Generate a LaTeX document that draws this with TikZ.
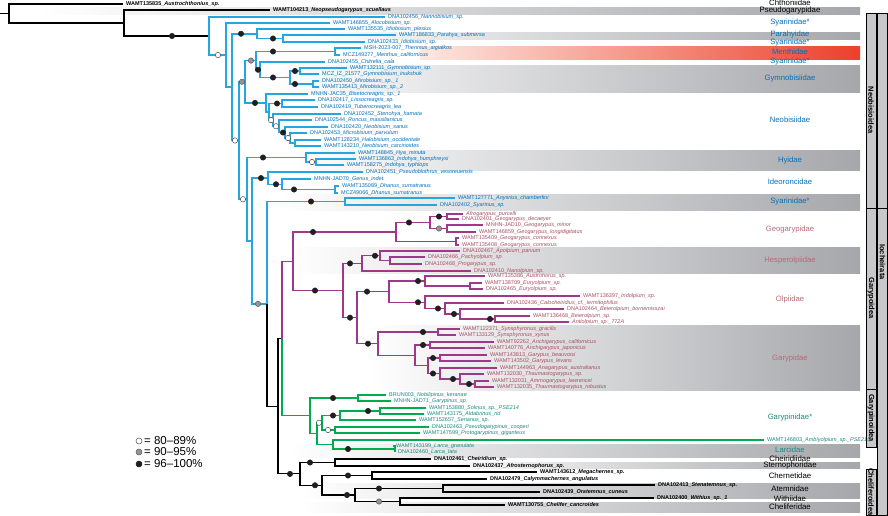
\documentclass[tikz,border=0pt]{standalone}
\usepackage{fontspec}
\setmainfont{Liberation Sans}
\usetikzlibrary{calc}
\definecolor{cb}{RGB}{38,166,224}
\definecolor{cbt}{RGB}{0,112,186}
\definecolor{cp}{RGB}{160,56,138}
\definecolor{cpt}{RGB}{168,78,98}
\definecolor{cpf}{RGB}{185,105,115}
\definecolor{cg}{RGB}{0,170,78}
\definecolor{cgt}{RGB}{22,138,128}
\definecolor{bandm}{RGB}{196,197,200}
\definecolor{bandg}{RGB}{166,167,171}
\definecolor{colg}{RGB}{200,200,202}
\definecolor{mnl}{RGB}{253,232,225}
\definecolor{mnm}{RGB}{243,158,132}
\definecolor{mnr}{RGB}{236,64,42}
\newcommand\sn[2]{#1\_\textit{#2}}
\tikzset{
 kb/.style={line width=1.1pt, black},
 bb/.style={line width=1.5pt, cb},
 pb/.style={line width=1.2pt, cp},
 gb/.style={line width=1.3pt, cg},
 lf/.style={anchor=west, inner xsep=3pt, inner ysep=0pt, text height=4pt, text depth=1.2pt, font=\fontsize{5.5}{6}\selectfont},
 lk/.style={lf, font=\fontsize{5.5}{6}\selectfont\bfseries},
 lb/.style={lf, text=cbt},
 lp/.style={lf, text=cpt},
 lg/.style={lf, text=cgt},
 fam/.style={font=\fontsize{7.7}{8}\selectfont, inner sep=0pt, text height=4.4pt, text depth=1pt},
 famk/.style={font=\fontsize{7.8}{8}\selectfont, inner sep=0pt, text=black, text height=4.2pt, text depth=0.9pt},
 dotbase/.style={circle, inner sep=0pt, minimum size=5.4pt, line width=0.5pt},
 bd/.style={dotbase, fill=black!88, draw=black!88},
 gd/.style={dotbase, fill=black!42, draw=black!65},
 wd/.style={dotbase, fill=white, draw=black!70},
 band/.style={left color=white, middle color=bandm, right color=bandg},
 colbox/.style={draw=black, line width=0.5pt, fill=colg},
 coltxt/.style={rotate=-90, font=\fontsize{7.5}{8}\selectfont\bfseries, inner sep=0pt},
 legt/.style={anchor=west, font=\fontsize{11.5}{12}\selectfont, inner sep=0pt},
}
\begin{document}
\begin{tikzpicture}[x=1pt,y=-1pt]
\useasboundingbox (0,0) rectangle (888,515);
% ---------- bands
\fill[band] (40,7) rectangle (860,14.5);
\fill[band] (300,32) rectangle (860,39);
\fill[left color=mnl, middle color=mnm, right color=mnr] (420,46) rectangle (860,59);
\fill[band] (270,65) rectangle (860,92);
\fill[band] (290,150) rectangle (860,170);
\fill[band] (280,194) rectangle (860,210);
\fill[band] (290,247) rectangle (860,273);
\fill[band] (370,325) rectangle (860,390);
\fill[band] (290,444) rectangle (860,457);
\fill[band] (430,462) rectangle (860,468);
\fill[band] (300,483) rectangle (860,498);
\fill[band] (300,502) rectangle (860,512);
% ---------- side columns
\draw[colbox] (866,13) rectangle (876,208);
\node[coltxt] (cNeo) at (871,110) {Neobisioidea};
\draw[colbox] (866,208) rectangle (876,389);
\node[coltxt] (cGar) at (871,298) {Garypoidea};
\draw[colbox] (866,389) rectangle (876,447);
\node[coltxt] (cGpn) at (871,418) {Garypinoidea};
\draw[colbox] (866,469) rectangle (876,515);
\node[coltxt] (cChe) at (871,492) {Cheliferoidea};
\draw[colbox] (877.5,13) rectangle (887.5,208);
\draw[colbox] (877.5,208) rectangle (887.5,515);
\node[coltxt] (cIoc) at (882.5,262) {Iocheirata};
% ---------- internal nodes
\coordinate (stub) at (0,13.5);
\coordinate (Rt) at (9,13.5);
\coordinate (A) at (124,23);
\coordinate (B0) at (209,36);
\coordinate (C0) at (226,55.05);
\coordinate (C1) at (232,87.1);
\coordinate (D1) at (257,33.75);
\coordinate (D2) at (283,38.5);
\coordinate (C2) at (239,140.5);
\coordinate (G1) at (245,81.75);
\coordinate (G2) at (256,60.6);
\coordinate (M) at (335,51.5);
\coordinate (Y) at (260,69.75);
\coordinate (Gym) at (290,77.5);
\coordinate (GA) at (300,71);
\coordinate (GB) at (313,84);
\coordinate (N) at (266,102.9);
\coordinate (Np) at (269,111.8);
\coordinate (NP) at (282,103.5);
\coordinate (n1) at (273,120.1);
\coordinate (n2) at (279,126.25);
\coordinate (n3) at (285,132.5);
\coordinate (n4) at (290,138);
\coordinate (n5) at (295,143);
\coordinate (C3) at (247,199.25);
\coordinate (H1) at (306,157.5);
\coordinate (IP) at (316,162);
\coordinate (C4) at (252,241);
\coordinate (I1) at (268,178.1);
\coordinate (Ideo) at (282,184.25);
\coordinate (DP) at (335,189.5);
\coordinate (C5) at (267,303.85);
\coordinate (S1) at (345,201.5);
\coordinate (R) at (278,406.2);
\coordinate (PG0) at (282,338.5);
\coordinate (P) at (293,261.25);
\coordinate (Geo) at (396,232);
\coordinate (GeoA) at (430,222.5);
\coordinate (GeoA1) at (447,216.5);
\coordinate (GeoA2) at (447,228.5);
\coordinate (GCon) at (456,241.5);
\coordinate (X) at (343,290.5);
\coordinate (Hesp) at (362,263.4);
\coordinate (H2) at (380,255.75);
\coordinate (H3) at (390,260.5);
\coordinate (OG2) at (357,317.65);
\coordinate (Olp) at (389,291.6);
\coordinate (O1) at (425,281);
\coordinate (EP) at (470,286);
\coordinate (b1) at (425,302.25);
\coordinate (b2) at (445,308.5);
\coordinate (b3) at (460,314);
\coordinate (b4) at (495,319);
\coordinate (Gar) at (378,343.7);
\coordinate (Syn) at (438,332);
\coordinate (Gar2) at (415,355.4);
\coordinate (Anch) at (430,345);
\coordinate (Gar3) at (428,365.75);
\coordinate (GP) at (440,358);
\coordinate (Gar4) at (440,373.5);
\coordinate (Gar5) at (460,379);
\coordinate (Gar6) at (475,384);
\coordinate (Gr) at (310,415.8);
\coordinate (Ga) at (358,398);
\coordinate (Gb) at (317,433.6);
\coordinate (Gc) at (322,422.75);
\coordinate (SAS) at (340,415.5);
\coordinate (SA) at (380,411);
\coordinate (PP) at (335,430);
\coordinate (Gd) at (333,444.5);
\coordinate (LP) at (395,449);
\coordinate (Ch) at (300,473.9);
\coordinate (Ch1) at (335,462.5);
\coordinate (Ch2) at (322,485.25);
\coordinate (Chern) at (372,475.5);
\coordinate (Ch3) at (355,495);
\coordinate (At) at (443,488.5);
\coordinate (Wc) at (400,501.5);
% ---------- leaves
\node[lk] (L1) at (123,4) {\sn{WAMT135835}{Austrochthonius\_sp.}};
\node[lk] (L2) at (270,10) {\sn{WAMT104213}{Neopseudogarypus\_scuellaus}};
\node[lb] (L3) at (385,17) {\sn{DNA102456}{Nannobisium\_sp.}};
\node[lb] (L4) at (330,23) {\sn{WAMT146855}{Alocobisium\_sp.}};
\node[lb] (L5) at (345,29) {\sn{WAMT135535}{Idiobisium\_plesius}};
\node[lb] (L6) at (396,35) {\sn{WAMT186833}{Parahya\_submersa}};
\node[lb] (L7) at (365,42) {\sn{DNA102433}{Idiobisium\_sp.}};
\node[lb] (L8) at (361,48) {\sn{MSH-2023-007}{Thenmus\_aigialkos}};
\node[lb] (L9) at (340,55) {\sn{MCZ149277}{Menthus\_californicus}};
\node[lb] (L10) at (325,62) {\sn{DNA102455}{Chitrella\_cala}};
\node[lb] (L11) at (347,68) {\sn{WAMT132111}{Gymnobisium\_sp.}};
\node[lb] (L12) at (319,74) {\sn{MCZ\_IZ\_21577}{Gymnobisium\_inukshuk}};
\node[lb] (L13) at (319,81) {\sn{DNA102450}{Mirobisium\_sp.\_1}};
\node[lb] (L14) at (319,87) {\sn{WAMT135413}{Mirobisium\_sp.\_2}};
\node[lb] (L15) at (308,94) {\sn{MNHN-JAC35}{Bisetocreagris\_sp.\_1}};
\node[lb] (L16) at (315,100) {\sn{DNA102417}{Lissocreagris\_sp.}};
\node[lb] (L17) at (318,107) {\sn{DNA102419}{Tuberocreagris\_lea}};
\node[lb] (L18) at (341,114) {\sn{DNA102452}{Stenohya\_hamata}};
\node[lb] (L19) at (312,120) {\sn{DNA102544}{Roncus\_massilianicus}};
\node[lb] (L20) at (328,127) {\sn{DNA102420}{Neobisium\_sanus}};
\node[lb] (L21) at (307,133) {\sn{DNA102453}{Microbisium\_parvulum}};
\node[lb] (L22) at (321,140) {\sn{WAMT128234}{Halobisium\_occidentale}};
\node[lb] (L23) at (321,146) {\sn{WAMT143210}{Neobisium\_carcinoides}};
\node[lb] (L24) at (355,153) {\sn{WAMT148845}{Hya\_minuta}};
\node[lb] (L25) at (356,159) {\sn{WAMT136863}{Indohya\_humphreysi}};
\node[lb] (L26) at (344,165) {\sn{WAMT158275}{Indohya\_typhlops}};
\node[lb] (L27) at (363,172) {\sn{DNA102451}{Pseudoblothrus\_vesoreuensis}};
\node[lb] (L28) at (311,179) {\sn{MNHN-JAD70}{Genus\_indet.}};
\node[lb] (L29) at (339,186) {\sn{WAMT135089}{Dhanus\_sumatranus}};
\node[lb] (L30) at (338,193) {\sn{MCZ49066}{Dhanus\_sumatranus}};
\node[lb] (L31) at (455,198) {\sn{WAMT127771}{Anysrius\_chamberlini}};
\node[lb] (L32) at (437,205) {\sn{DNA102402}{Syarinus\_sp.}};
\node[lp] (L33) at (463,214) {\textit{Afrogarypus\_purcelli}};
\node[lp] (L34) at (459,219) {\sn{DNA102401}{Geogarypus\_decaeyer}};
\node[lp] (L35) at (483,225) {\sn{MNHN-JAD10}{Geogarypus\_minor}};
\node[lp] (L36) at (476,232) {\sn{WAMT146859}{Geogarypus\_longidigitatus}};
\node[lp] (L37) at (459,238) {\sn{WAMT135409}{Geogarypus\_connexus}};
\node[lp] (L38) at (459,245) {\sn{WAMT135408}{Geogarypus\_connexus}};
\node[lp] (L39) at (460,251) {\sn{DNA102467}{Apolpium\_parvum}};
\node[lp] (L40) at (425,257) {\sn{DNA102466}{Pachyolpium\_sp.}};
\node[lp] (L41) at (422,264) {\sn{DNA102468}{Progarypus\_sp.}};
\node[lp] (L42) at (471,271) {\sn{DNA102410}{Nanolpium\_sp.}};
\node[lp] (L43) at (485,276) {\sn{WAMT135386}{Austrohorus\_sp.}};
\node[lp] (L44) at (482,283) {\sn{WAMT138709}{Euryolpium\_sp.}};
\node[lp] (L45) at (483,289) {\sn{DNA102465}{Euryolpium\_sp.}};
\node[lp] (L46) at (580,296) {\sn{WAMT136397}{Indolpium\_sp.}};
\node[lp] (L47) at (504,303) {\sn{DNA102436}{Calocheiridius\_cf.\_termitophilus}};
\node[lp] (L48) at (564,309) {\sn{DNA102464}{Beierolpium\_bornemisszai}};
\node[lp] (L49) at (530,316) {\sn{WAMT136468}{Beierolpium\_sp.}};
\node[lp] (L50) at (569,322) {\textit{Antiolpium\_sp.\_772A}};
\node[lp] (L51) at (460,329) {\sn{WAMT122371}{Synsphyronus\_gracilis}};
\node[lp] (L52) at (456,335) {\sn{WAMT133129}{Synsphyronus\_xynus}};
\node[lp] (L53) at (494,342) {\sn{WAMT92262}{Anchigarypus\_californicus}};
\node[lp] (L54) at (485,348) {\sn{WAMT140776}{Anchigarypus\_japonicus}};
\node[lp] (L55) at (487,355) {\sn{WAMT143813}{Garypus\_beauvoisi}};
\node[lp] (L56) at (491,361) {\sn{WAMT143502}{Garypus\_levans}};
\node[lp] (L57) at (497,368) {\sn{WAMT144963}{Anagarypus\_australianus}};
\node[lp] (L58) at (484,374) {\sn{WAMT132030}{Thaumastogarypus\_sp.}};
\node[lp] (L59) at (489,381) {\sn{WAMT132031}{Ammogarypus\_lawrencei}};
\node[lp] (L60) at (494,387) {\sn{WAMT132035}{Thaumastogarypus\_robustus}};
\node[lg] (L61) at (386,395) {\sn{BRUN003}{Nobilipinus\_keranae}};
\node[lg] (L62) at (391,401) {\sn{MNHN-JAD71}{Garypinus\_sp.}};
\node[lg] (L63) at (426,408) {\sn{WAMT153880}{Solinus\_sp.\_PSE214}};
\node[lg] (L64) at (424,414) {\sn{WAMT143175}{Aldabrinus\_rid}};
\node[lg] (L65) at (416,420) {\sn{WAMT152657}{Serianus\_sp.}};
\node[lg] (L66) at (429,427) {\sn{DNA102463}{Pseudogarypinus\_cooperi}};
\node[lg] (L67) at (420,433) {\sn{WAMT147599}{Protogarypinus\_giganteus}};
\node[lg] (L68) at (764,440) {\sn{WAMT146803}{Amblyolpium\_sp.\_PSE215}};
\node[lg] (L69) at (393,446) {\sn{WAMT143199}{Larca\_granulata}};
\node[lg] (L70) at (395,452) {\sn{DNA102460}{Larca\_lata}};
\node[lk] (L71) at (431,459) {\sn{DNA102461}{Cheiridium\_sp.}};
\node[lk] (L72) at (470,466) {\sn{DNA102437}{Afrosternophorus\_sp.}};
\node[lk] (L73) at (537,472) {\sn{WAMT143612}{Megachernes\_sp.}};
\node[lk] (L74) at (487,479) {\sn{DNA102479}{Calymmachernes\_angulatus}};
\node[lk] (L75) at (655,485) {\sn{DNA102413}{Stenatemnus\_sp.}};
\node[lk] (L76) at (540,492) {\sn{DNA102439}{Oratemnus\_cuneus}};
\node[lk] (L77) at (654,498) {\sn{DNA102400}{Withius\_sp.\_1}};
\node[lk] (L78) at (505,505) {\sn{WAMT130755}{Chelifer\_cancroides}};
% ---------- black outer edges
\draw[kb] (stub) -- (Rt);
\draw[kb] (Rt) |- (L1.west);
\draw[kb] (Rt) |- (A);
\draw[kb] (A) |- (L2.west);
\draw[kb] (A) |- (B0);
% ---------- blue edges
\draw[bb] (B0) |- (L3.west); \draw[bb] (B0) |- (C0);
\draw[bb] (C0) |- (L4.west); \draw[bb] (C0) |- (C1);
\draw[bb] (C1) |- (D1); \draw[bb] (C1) |- (C2);
\draw[bb] (D1) |- (L5.west); \draw[bb] (D1) |- (D2);
\draw[bb] (D2) |- (L6.west); \draw[bb] (D2) |- (L7.west);
\draw[bb] (C2) |- (G1); \draw[bb] (C2) |- (C3);
\draw[bb] (G1) |- (G2); \draw[bb] (G1) |- (N);
\draw[bb] (G2) |- (M); \draw[bb] (G2) |- (Y);
\draw[bb] (M) |- (L8.west); \draw[bb] (M) |- (L9.west);
\draw[bb] (Y) |- (L10.west); \draw[bb] (Y) |- (Gym);
\draw[bb] (Gym) |- (GA); \draw[bb] (Gym) |- (GB);
\draw[bb] (GA) |- (L11.west); \draw[bb] (GA) |- (L12.west);
\draw[bb] (GB) |- (L13.west); \draw[bb] (GB) |- (L14.west);
\draw[bb] (N) |- (L15.west); \draw[bb] (N) |- (Np);
\draw[bb] (Np) |- (NP); \draw[bb] (Np) |- (n1);
\draw[bb] (NP) |- (L16.west); \draw[bb] (NP) |- (L17.west);
\draw[bb] (n1) |- (L18.west); \draw[bb] (n1) |- (n2);
\draw[bb] (n2) |- (L19.west); \draw[bb] (n2) |- (n3);
\draw[bb] (n3) |- (L20.west); \draw[bb] (n3) |- (n4);
\draw[bb] (n4) |- (L21.west); \draw[bb] (n4) |- (n5);
\draw[bb] (n5) |- (L22.west); \draw[bb] (n5) |- (L23.west);
\draw[bb] (C3) |- (H1); \draw[bb] (C3) |- (C4);
\draw[bb] (H1) |- (L24.west); \draw[bb] (H1) |- (IP);
\draw[bb] (IP) |- (L25.west); \draw[bb] (IP) |- (L26.west);
\draw[bb] (C4) |- (I1); \draw[bb] (C4) |- (C5);
\draw[bb] (I1) |- (L27.west); \draw[bb] (I1) |- (Ideo);
\draw[bb] (Ideo) |- (L28.west); \draw[bb] (Ideo) |- (DP);
\draw[bb] (DP) |- (L29.west); \draw[bb] (DP) |- (L30.west);
\draw[bb] (C5) |- (S1);
\draw[bb] (S1) |- (L31.west); \draw[bb] (S1) |- (L32.west);
% ---------- black lower edges
\draw[kb] (C5) |- (R);
\draw[kb] (R) |- (PG0); \draw[kb] (R) |- (Ch);
\draw[kb] (Ch) |- (Ch1); \draw[kb] (Ch) |- (Ch2);
\draw[kb] (Ch1) |- (L71.west); \draw[kb] (Ch1) |- (L72.west);
\draw[kb] (Ch2) |- (Chern); \draw[kb] (Ch2) |- (Ch3);
\draw[kb] (Chern) |- (L73.west); \draw[kb] (Chern) |- (L74.west);
\draw[kb] (Ch3) |- (At); \draw[kb] (Ch3) |- (Wc);
\draw[kb] (At) |- (L75.west); \draw[kb] (At) |- (L76.west);
\draw[kb] (Wc) |- (L77.west); \draw[kb] (Wc) |- (L78.west);
% ---------- purple edges
\draw[pb] (PG0) |- (P);
\draw[pb] (P) |- (Geo); \draw[pb] (P) |- (X);
\draw[pb] (Geo) |- (GeoA); \draw[pb] (Geo) |- (GCon);
\draw[pb] (GeoA) |- (GeoA1); \draw[pb] (GeoA) |- (GeoA2);
\draw[pb] (GeoA1) |- (L33.west); \draw[pb] (GeoA1) |- (L34.west);
\draw[pb] (GeoA2) |- (L35.west); \draw[pb] (GeoA2) |- (L36.west);
\draw[pb] (GCon) |- (L37.west); \draw[pb] (GCon) |- (L38.west);
\draw[pb] (X) |- (Hesp); \draw[pb] (X) |- (OG2);
\draw[pb] (Hesp) |- (H2); \draw[pb] (Hesp) |- (L42.west);
\draw[pb] (H2) |- (L39.west); \draw[pb] (H2) |- (H3);
\draw[pb] (H3) |- (L40.west); \draw[pb] (H3) |- (L41.west);
\draw[pb] (OG2) |- (Olp); \draw[pb] (OG2) |- (Gar);
\draw[pb] (Olp) |- (O1); \draw[pb] (Olp) |- (b1);
\draw[pb] (O1) |- (L43.west); \draw[pb] (O1) |- (EP);
\draw[pb] (EP) |- (L44.west); \draw[pb] (EP) |- (L45.west);
\draw[pb] (b1) |- (L46.west); \draw[pb] (b1) |- (b2);
\draw[pb] (b2) |- (L47.west); \draw[pb] (b2) |- (b3);
\draw[pb] (b3) |- (L48.west); \draw[pb] (b3) |- (b4);
\draw[pb] (b4) |- (L49.west); \draw[pb] (b4) |- (L50.west);
\draw[pb] (Gar) |- (Syn); \draw[pb] (Gar) |- (Gar2);
\draw[pb] (Syn) |- (L51.west); \draw[pb] (Syn) |- (L52.west);
\draw[pb] (Gar2) |- (Anch); \draw[pb] (Gar2) |- (Gar3);
\draw[pb] (Anch) |- (L53.west); \draw[pb] (Anch) |- (L54.west);
\draw[pb] (Gar3) |- (GP); \draw[pb] (Gar3) |- (Gar4);
\draw[pb] (GP) |- (L55.west); \draw[pb] (GP) |- (L56.west);
\draw[pb] (Gar4) |- (L57.west); \draw[pb] (Gar4) |- (Gar5);
\draw[pb] (Gar5) |- (L58.west); \draw[pb] (Gar5) |- (Gar6);
\draw[pb] (Gar6) |- (L59.west); \draw[pb] (Gar6) |- (L60.west);
% ---------- green edges
\draw[gb] (PG0) |- (Gr);
\draw[gb] (Gr) |- (Ga); \draw[gb] (Gr) |- (Gb);
\draw[gb] (Ga) |- (L61.west); \draw[gb] (Ga) |- (L62.west);
\draw[gb] (Gb) |- (Gc); \draw[gb] (Gb) |- (Gd);
\draw[gb] (Gc) |- (SAS); \draw[gb] (Gc) |- (PP);
\draw[gb] (SAS) |- (SA); \draw[gb] (SAS) |- (L65.west);
\draw[gb] (SA) |- (L63.west); \draw[gb] (SA) |- (L64.west);
\draw[gb] (PP) |- (L66.west); \draw[gb] (PP) |- (L67.west);
\draw[gb] (Gd) |- (L68.west); \draw[gb] (Gd) |- (LP);
\draw[gb] (LP) |- (L69.west); \draw[gb] (LP) |- (L70.west);
% ---------- support dots
\node[bd] at (172,0 |- B0) {};
\node[wd] at (218,0 |- C0) {};
\node[bd] at (241,0 |- D1) {};
\node[bd] at (273,0 |- D2) {};
\node[bd] at (273,0 |- M) {};
\node[gd] at (251,0 |- G2) {};
\node[bd] at (258,0 |- Y) {};
\node[bd] at (273,0 |- Gym) {};
\node[bd] at (295,0 |- GA) {};
\node[bd] at (295,0 |- GB) {};
\node[gd] at (242,0 |- G1) {};
\node[bd] at (255,0 |- N) {};
\node[bd] at (277,0 |- NP) {};
\node[wd] at (271,0 |- n1) {};
\node[wd] at (276,0 |- n2) {};
\node[bd] at (283,0 |- n3) {};
\node[wd] at (288,0 |- n4) {};
\node[wd] at (235,0 |- C2) {};
\node[bd] at (263,0 |- H1) {};
\node[wd] at (312,0 |- IP) {};
\node[bd] at (261,0 |- I1) {};
\node[bd] at (276,0 |- Ideo) {};
\node[bd] at (294,0 |- DP) {};
\node[wd] at (243,0 |- C3) {};
\node[bd] at (311,0 |- S1) {};
\node[gd] at (258,0 |- C5) {};
\node[bd] at (313,0 |- Geo) {};
\node[bd] at (409,0 |- GeoA) {};
\node[bd] at (439,0 |- GeoA1) {};
\node[gd] at (439,0 |- GeoA2) {};
\node[bd] at (315,0 |- X) {};
\node[bd] at (350,0 |- Hesp) {};
\node[bd] at (375,0 |- H2) {};
\node[bd] at (350,0 |- OG2) {};
\node[bd] at (367,0 |- Olp) {};
\node[bd] at (418,0 |- O1) {};
\node[bd] at (418,0 |- b1) {};
\node[bd] at (438,0 |- b2) {};
\node[bd] at (454,0 |- b3) {};
\node[bd] at (490,0 |- b4) {};
\node[bd] at (368,0 |- Gar) {};
\node[bd] at (423,0 |- Syn) {};
\node[bd] at (423,0 |- Anch) {};
\node[bd] at (433,0 |- GP) {};
\node[bd] at (433,0 |- Gar4) {};
\node[bd] at (453,0 |- Gar5) {};
\node[bd] at (469,0 |- Gar6) {};
\node[bd] at (333,0 |- Ga) {};
\node[bd] at (368,0 |- SA) {};
\node[bd] at (333,0 |- SAS) {};
\node[wd] at (319,0 |- Gc) {};
\node[wd] at (328,0 |- PP) {};
\node[bd] at (348,0 |- LP) {};
\node[bd] at (290,0 |- Ch) {};
\node[bd] at (310,0 |- Ch1) {};
\node[bd] at (315,0 |- Ch2) {};
\node[bd] at (348,0 |- Chern) {};
\node[bd] at (347,0 |- Ch3) {};
\node[bd] at (379,0 |- At) {};
\node[gd] at (379,0 |- Wc) {};
% ---------- family labels
\node[famk] at (790,3.8) {Chthoniidae};
\node[famk] at (790,11) {Pseudogarypidae};
\node[fam, text=cbt] at (790,23) {Syarinidae*};
\node[fam, text=cbt] at (790,35) {Parahyidae};
\node[fam, text=cbt] at (790,43) {Syarinidae*};
\node[fam, text=cbt] at (790,53) {Menthidae};
\node[fam, text=cbt] at (790,62) {Syarinidae*};
\node[fam, text=cbt] at (790,79) {Gymnobisiidae};
\node[fam, text=cbt] at (790,121) {Neobisiidae};
\node[fam, text=cbt] at (790,161) {Hyidae};
\node[fam, text=cbt] at (790,183) {Ideoroncidae};
\node[fam, text=cbt] at (790,202) {Syarinidae*};
\node[fam, text=cpf] at (790,230) {Geogarypidae};
\node[fam, text=cpf] at (790,261) {Hesperolpiidae};
\node[fam, text=cpf] at (790,300) {Olpiidae};
\node[fam, text=cpf] at (790,359) {Garypidae};
\node[fam, text=cgt] at (790,418) {Garypinidae*};
\node[fam, text=cgt] at (790,451) {Larcidae};
\node[famk] at (790,459.6) {Cheiridiidae};
\node[famk] at (790,466) {Sternophoridae};
\node[famk] at (790,477) {Chernetidae};
\node[famk] at (790,490) {Atemnidae};
\node[famk] at (790,500) {Withiidae};
\node[famk] at (790,508) {Cheliferidae};
% ---------- legend
\node[wd, minimum size=6pt] (k1) at (139,441) {};
\node[gd, minimum size=6pt] (k2) at (139,452) {};
\node[bd, minimum size=6pt] (k3) at (139,464) {};
\node[legt] (t1) at (144,441) {= 80--89\%};
\node[legt] (t2) at (144,452) {= 90--95\%};
\node[legt] (t3) at (144,464) {= 96--100\%};
\end{tikzpicture}
\end{document}
